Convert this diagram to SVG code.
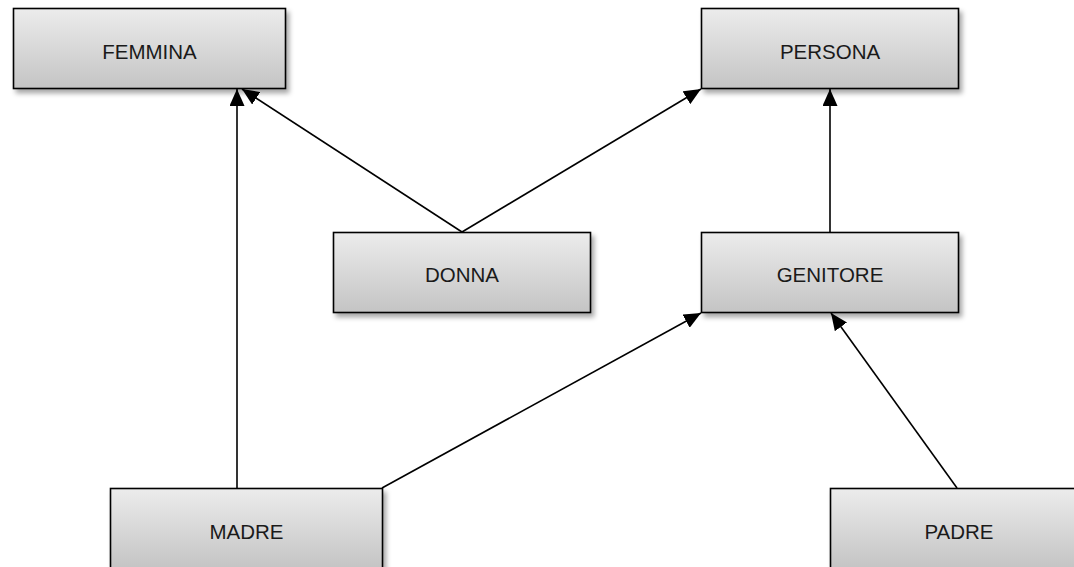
<svg xmlns="http://www.w3.org/2000/svg" width="1074" height="567" viewBox="0 0 1074 567">
<defs>
<linearGradient id="g" x1="0" y1="0" x2="0" y2="1">
<stop offset="0" stop-color="#ececec"/>
<stop offset="1" stop-color="#c4c4c4"/>
</linearGradient>
<filter id="sh" x="-10%" y="-10%" width="130%" height="140%">
<feDropShadow dx="3" dy="4" stdDeviation="2.5" flood-color="#000" flood-opacity="0.35"/>
</filter>
<marker id="ah" markerUnits="userSpaceOnUse" markerWidth="17" markerHeight="15" viewBox="0 0 17 15" refX="17" refY="7.5" orient="auto">
<path d="M0,0 L17,7.5 L0,15 Z" fill="#000"/>
</marker>
<style>
.box rect{fill:url(#g);stroke:#000;stroke-width:1.6;filter:url(#sh)}
.box text{font-family:"Liberation Sans",Arial,sans-serif;font-size:20.5px;fill:#1a1a1a;text-anchor:middle}
.c path{stroke:#000;stroke-width:1.6;fill:none;marker-end:url(#ah)}
</style>
</defs>
<rect width="1074" height="567" fill="#fff"/>
<g class="c" id="connectors">
<path d="M237,488 L237,89"/>
<path d="M462,232 L242,89"/>
<path d="M462,232 L701,89"/>
<path d="M830,232 L830,89"/>
<path d="M382,488 L701,313"/>
<path d="M957,488 L831,313"/>
</g>
<g class="box" id="femmina"><rect x="13.5" y="8.5" width="272" height="80"/><text x="149.5" y="58.5">FEMMINA</text></g>
<g class="box" id="persona"><rect x="701.5" y="8.5" width="257" height="80"/><text x="830" y="58.5">PERSONA</text></g>
<g class="box" id="donna"><rect x="333.5" y="232.5" width="257" height="80"/><text x="462" y="282">DONNA</text></g>
<g class="box" id="genitore"><rect x="701.5" y="232.5" width="257" height="80"/><text x="830" y="282">GENITORE</text></g>
<g class="box" id="madre"><rect x="110.5" y="488.5" width="272" height="80"/><text x="246.5" y="538.5">MADRE</text></g>
<g class="box" id="padre"><rect x="830.5" y="488.5" width="257" height="80"/><text x="959" y="538.5">PADRE</text></g>
</svg>
